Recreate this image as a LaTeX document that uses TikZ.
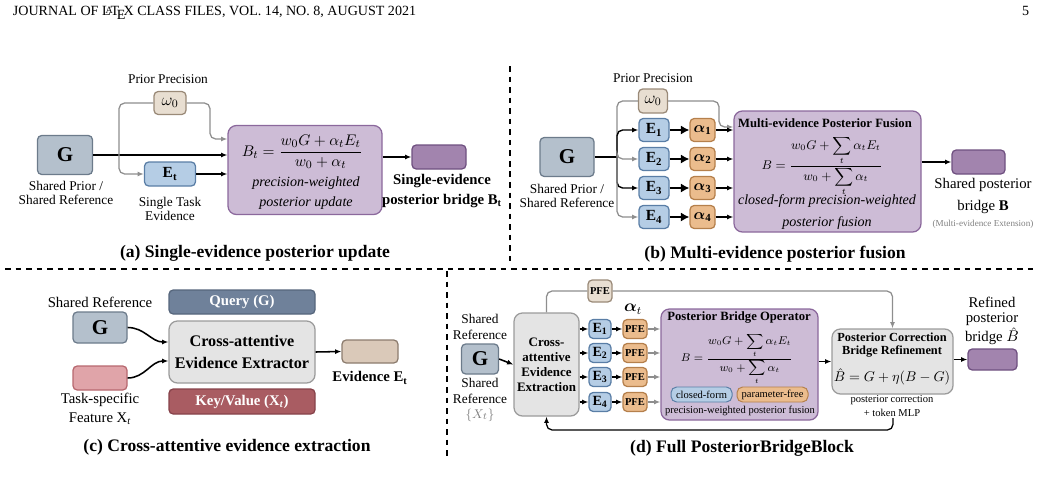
\documentclass[tikz,border=0pt]{standalone}
\usepackage{amsmath}
\usepackage{bm}
\usepackage{fontspec}
\setmainfont{Liberation Serif}
\usetikzlibrary{arrows.meta,positioning,calc}

\definecolor{gfill}{HTML}{B4C0CC}
\definecolor{gline}{HTML}{6C7B8B}
\definecolor{efill}{HTML}{B5CDE5}
\definecolor{eline}{HTML}{5A7EA6}
\definecolor{wfill}{HTML}{E8DED1}
\definecolor{wline}{HTML}{9A8A78}
\definecolor{afill}{HTML}{EBBC8D}
\definecolor{aline}{HTML}{B5804C}
\definecolor{pfill}{HTML}{CDBCD6}
\definecolor{pline}{HTML}{8B689C}
\definecolor{bfill}{HTML}{A284AE}
\definecolor{bline}{HTML}{6F5080}
\definecolor{xfill}{HTML}{E4E4E4}
\definecolor{xline}{HTML}{9B9B9B}
\definecolor{qfill}{HTML}{6F819A}
\definecolor{qline}{HTML}{56667C}
\definecolor{kfill}{HTML}{A95C62}
\definecolor{kline}{HTML}{86424A}
\definecolor{tfill}{HTML}{E0A4A9}
\definecolor{tline}{HTML}{B7686F}
\definecolor{vfill}{HTML}{DAC9B9}
\definecolor{vline}{HTML}{8C7C6E}
\definecolor{wire}{HTML}{8E8E8E}

\newcommand{\fsz}[2]{\fontsize{#1}{#2}\selectfont}
\newcommand{\fusedB}{B=\frac{\displaystyle w_0G+\sum_t\alpha_tE_t}{\displaystyle w_0+\sum_t\alpha_t}}

\begin{document}
\begin{tikzpicture}[x=0.25mm,y=-0.25mm,>={Latex[length=4.5pt,width=3.6pt]},
  sz/.style 2 args={minimum width=#1*0.25mm,minimum height=#2*0.25mm}]
  \tikzstyle{box}=[draw,rounded corners=3pt,line width=0.9pt,inner sep=0pt,align=center]
  \tikzstyle{gbox}=[box,draw=gline,fill=gfill,font=\fsz{15}{15}\bfseries]
  \tikzstyle{ebox}=[box,draw=eline,fill=efill,font=\fsz{11}{11}\bfseries]
  \tikzstyle{wbox}=[box,draw=wline,fill=wfill,font=\fsz{12}{12}]
  \tikzstyle{abox}=[box,draw=aline,fill=afill,font=\fsz{11}{11}]
  \tikzstyle{pbox}=[box,draw=pline,fill=pfill,rounded corners=6pt]
  \tikzstyle{bbox}=[box,draw=bline,fill=bfill]
  \tikzstyle{xbox}=[box,draw=xline,fill=xfill,rounded corners=6pt]
  \tikzstyle{lbl}=[align=center,inner sep=0pt,font=\fsz{9.5}{10.5}]
  \tikzstyle{capt}=[inner sep=0pt,font=\fsz{12.5}{14}\bfseries]
  \tikzstyle{wirea}=[line width=1.1pt,->]
  \tikzstyle{gwire}=[draw=wire,line width=0.9pt,rounded corners=4pt]
  \tikzstyle{divider}=[line width=1.3pt,dash pattern=on 4pt off 3.5pt]

  \useasboundingbox (0,0) rectangle (1041,502);

  % page header
  \node[anchor=base west,font=\fsz{10}{12}] (hdr) at (8,16) {JOURNAL OF \LaTeX\ CLASS FILES, VOL. 14, NO. 8, AUGUST 2021};
  \node[anchor=base east,font=\fsz{10}{12}] (pgno) at (1034,16) {5};

  % panel dividers
  \draw[divider] (510,66) -- (510,266);
  \draw[divider] (5,269) -- (1036,269);
  \draw[divider] (447,271) -- (447,458);

  % (a) single evidence
  \node[lbl] (ppa) at (168,79) {Prior Precision};
  \node[wbox,sz={32}{23}] (w0a) at (170,103) {$\omega_0$};
  \node[gbox,sz={55}{39}] (Ga) at (65,155) {G};
  \node[lbl] (Gla) at (66,193) {Shared Prior /\\Shared Reference};
  \node[ebox,sz={51}{24}] (Eta) at (170,174) {E\textsubscript{t}};
  \node[lbl] (Etla) at (170,209) {Single Task\\Evidence};
  \node[pbox,sz={154}{89}] (Pa) at (305,170) {};
  \node[inner sep=0pt,font=\fsz{11}{12}] (Fa) at (302,152) {$B_t=\dfrac{w_0G+\alpha_tE_t}{w_0+\alpha_t}$};
  \node[lbl,font=\fsz{10}{14}\itshape] (Ta) at (306,193) {precision-weighted\\posterior update};
  \node[bbox,sz={54}{24}] (Ba) at (439,157) {};
  \node[lbl,font=\fsz{10.5}{14}\bfseries] (Bla) at (442,191) {Single-evidence\\posterior bridge B\textsubscript{t}};
  \coordinate (ja) at (119,155);
  \coordinate (wa) at (210,139);
  \draw[wirea] (Ga.east) -- (Ga.east -| Pa.west);
  \draw[gwire] (ja) |- (w0a.west);
  \draw[gwire,->] (w0a.east) -| (wa) -- (wa -| Pa.west);
  \draw[gwire,->] (ja) |- (Eta.west);
  \draw[wirea] (Eta.east) -- (Eta.east -| Pa.west);
  \draw[wirea] (Pa.east |- Ba) -- (Ba.west);
  \node[capt] (capa) at (255,253) {(a) Single-evidence posterior update};

  % (b) multi evidence
  \node[lbl] (ppb) at (653,78) {Prior Precision};
  \node[wbox,sz={29}{24}] (w0b) at (653,101) {$\omega_0$};
  \node[gbox,sz={54}{39}] (Gb) at (567,157) {G};
  \node[lbl] (Glb) at (567,196) {Shared Prior /\\Shared Reference};
  \foreach \i/\y in {1/130,2/159,3/188,4/217} {
    \node[ebox,sz={30}{23}] (E\i b) at (654,\y) {E\textsubscript{\i}};
    \node[abox,sz={25}{23}] (A\i b) at (702.5,\y) {$\bm{\alpha}_{\mathbf{\i}}$};
  }
  \node[pbox,sz={187}{121}] (Pb) at (827.5,171.5) {};
  \node[inner sep=0pt,font=\fsz{9}{10}\bfseries] (Tib) at (825,123) {Multi-evidence Posterior Fusion};
  \node[inner sep=0pt,font=\fsz{9}{10}] (Fb) at (822,166) {$\fusedB$};
  \node[lbl,font=\fsz{10}{15}\itshape] (Tb) at (827,212) {closed-form precision-weighted\\posterior fusion};
  \node[bbox,sz={53}{24}] (Bb) at (978.5,162) {};
  \node[lbl,font=\fsz{10.5}{15}] (Blb) at (983,196) {Shared posterior\\bridge \textbf{B}};
  \node[lbl,font=\fsz{6.5}{8},text=gray] (Xtb) at (983,224) {(Multi-evidence Extension)};
  \coordinate (jb) at (617,157);
  \coordinate (wb) at (719,127);
  \draw[line width=1.1pt] (Gb.east) -- (jb);
  \draw[gwire] (jb) |- (w0b.west);
  \draw[gwire,->] (w0b.east) -| (wb) -- (wb -| Pb.west);
  \draw[line width=1pt,rounded corners=4pt,->] (jb) |- (E1b.west);
  \draw[gwire,->] (jb) |- (E2b.west);
  \draw[line width=1pt,rounded corners=4pt,->] (jb) |- (E3b.west);
  \draw[gwire,->] (jb) |- (E4b.west);
  \foreach \i in {1,...,4} {
    \draw[line width=1.8pt,-{Latex[length=6pt,width=6.5pt]}] (E\i b.east) -- (A\i b.west);
    \draw[line width=0.9pt,->] (A\i b.east) -- (A\i b.east -| Pb.west);
  }
  \draw[wirea] (Pb.east |- Bb) -- (Bb.west);
  \node[capt] (capb) at (775,254) {(b) Multi-evidence posterior fusion};

  % (c) evidence extraction
  \node[lbl,font=\fsz{10.5}{12}] (Glc) at (100,302) {Shared Reference};
  \node[gbox,sz={54}{31}] (Gc) at (100,327.5) {G};
  \node[box,draw=tline,fill=tfill,sz={54}{24}] (Xc) at (100,378) {};
  \node[lbl,font=\fsz{10.5}{13.5}] (Xlc) at (100,409) {Task-specific\\Feature X\textsubscript{\textit{t}}};
  \node[box,draw=qline,fill=qfill,text=white,font=\fsz{10.5}{12}\bfseries,sz={146}{24}] (Qc) at (242,302) {Query (G)};
  \node[xbox,font=\fsz{11.5}{15}\bfseries,sz={146}{62}] (Ec) at (242,352) {Cross-attentive\\Evidence Extractor};
  \node[box,draw=kline,fill=kfill,text=white,font=\fsz{10.5}{12}\bfseries,sz={146}{25}] (Kc) at (242,401.5) {Key/Value (X\textsubscript{\textit{t}})};
  \node[box,draw=vline,fill=vfill,sz={56}{23}] (Vc) at (370,351.5) {};
  \node[lbl,font=\fsz{10.5}{12}\bfseries] (Vlc) at (370,378) {Evidence E\textsubscript{t}};
  \draw[wirea] (Gc.east) to[out=0,in=180] ($(Ec.west)+(0,-10)$);
  \draw[wirea] (Xc.east) to[out=0,in=180] ($(Ec.west)+(0,9)$);
  \draw[wirea] (Ec.east) -- (Vc.west);
  \node[capt] (capc) at (227,447) {(c) Cross-attentive evidence extraction};

  % (d) full block
  \node[lbl,font=\fsz{9.5}{10.8}] (Gtd) at (480,327) {Shared\\Reference};
  \node[gbox,sz={37}{30}] (Gd) at (480,359) {G};
  \node[lbl,font=\fsz{9.5}{10.8}] (Gbd) at (480,391) {Shared\\Reference};
  \node[lbl,text=gray] (Xsd) at (480,415) {$\{X_t\}$};
  \node[xbox,font=\fsz{9.2}{10.6}\bfseries,sz={65}{103}] (Xd) at (546.5,364.5) {Cross-\\attentive\\Evidence\\Extraction};
  \draw[wirea] (Gd.east) -- (Xd.west);
  \node[box,draw=wline,fill=wfill,font=\fsz{7.5}{8}\bfseries,sz={24}{22}] (pfe0) at (600,291) {PFE};
  \node[inner sep=0pt,font=\fsz{12}{12}] (atd) at (633,309) {$\bm{\alpha}_t$};
  \foreach \i/\y in {1/329,2/353,3/377,4/402} {
    \node[ebox,font=\fsz{10}{10}\bfseries,sz={22}{19}] (E\i d) at (600,\y) {E\textsubscript{\i}};
    \node[abox,font=\fsz{7.5}{8}\bfseries,sz={24}{19}] (F\i d) at (635,\y) {PFE};
  }
  \node[pbox,sz={157}{111}] (Od) at (739.5,364.5) {};
  \node[inner sep=0pt,font=\fsz{9}{10}\bfseries] (Otd) at (739,318) {Posterior Bridge Operator};
  \node[inner sep=0pt,font=\fsz{7.6}{8}] (Fd) at (737,359) {$\fusedB$};
  \node[box,draw=eline,fill=efill,font=\fsz{7.5}{8},rounded corners=4pt,line width=0.7pt,sz={61}{15}] (cfd) at (701.5,394.5) {closed-form};
  \node[box,draw=aline,fill=afill,font=\fsz{7.5}{8},rounded corners=4pt,line width=0.7pt,sz={71}{15}] (pfd) at (772.5,394.5) {parameter-free};
  \node[lbl,font=\fsz{7.5}{8}] (Old) at (740,411) {precision-weighted posterior fusion};
  \node[xbox,sz={121}{65}] (Cd) at (892.5,361.5) {};
  \node[lbl,font=\fsz{8.8}{9.5}\bfseries] (Ctd) at (892,345) {Posterior Correction\\Bridge Refinement};
  \node[inner sep=0pt,font=\fsz{9.8}{11}] (Cfd) at (892,377) {$\hat{B}=G+\eta(B-G)$};
  \node[lbl,font=\fsz{7.5}{10}] (Cld) at (892,406) {posterior correction\\+ token MLP};
  \node[bbox,sz={49}{21}] (Rd) at (992.5,359.5) {};
  \node[lbl,font=\fsz{10.5}{11}] (Rld) at (992,321) {Refined\\posterior\\bridge $\hat{B}$};
  \foreach \i in {1,...,4} {
    \draw[line width=0.9pt,->] (Xd.east |- E\i d) -- (E\i d.west);
    \draw[line width=0.9pt,->] (E\i d.east) -- (F\i d.west);
    \draw[draw=wire,line width=0.9pt,->] (F\i d.east) -- (F\i d.east -| Od.west);
  }
  \draw[gwire] (Xd.north) |- (pfe0.west);
  \draw[gwire,->] (pfe0.east) -| (Cd.north);
  \draw[wirea] (Od.east |- Cd) -- (Cd.west);
  \draw[wirea] (Cd.east |- Rd) -- (Rd.west);
  \coordinate (fb) at (893,418);
  \draw[line width=0.9pt,rounded corners=4pt,->] (fb) -- ++(0,12) -| (Xd.south);
  \node[capt] (capd) at (742,448) {(d) Full PosteriorBridgeBlock};
\end{tikzpicture}
\end{document}
